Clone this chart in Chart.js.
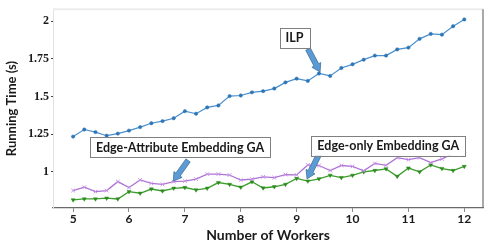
<!DOCTYPE html>
<html>
<head>
<meta charset="utf-8">
<script src="https://cdn.jsdelivr.net/npm/chart.js@4"></script>
<style>
  html, body { margin: 0; padding: 0; background: #fff; }
</style>
</head>
<body>
<canvas id="chart" width="490" height="244"></canvas>
<script>
// data
var workers = [5, 5.2, 5.4, 5.6, 5.8, 6, 6.2, 6.4, 6.6, 6.8, 7, 7.2, 7.4, 7.6, 7.8, 8, 8.2, 8.4,
               8.6, 8.8, 9, 9.2, 9.4, 9.6, 9.8, 10, 10.2, 10.4, 10.6, 10.8, 11, 11.2, 11.4, 11.6, 11.8, 12];
var ilp = [1.234, 1.281, 1.264, 1.240, 1.254, 1.274, 1.297, 1.323, 1.337, 1.356, 1.403, 1.386,
           1.428, 1.441, 1.503, 1.507, 1.528, 1.536, 1.553, 1.594, 1.619, 1.604, 1.653, 1.637,
           1.690, 1.714, 1.745, 1.772, 1.772, 1.813, 1.825, 1.883, 1.916, 1.911, 1.967, 2.012];
var edgeAttr = [0.876, 0.898, 0.869, 0.876, 0.935, 0.896, 0.946, 0.924, 0.917, 0.935, 0.939, 0.952,
                0.985, 0.985, 0.979, 0.946, 0.952, 0.967, 0.962, 0.982, 0.980, 1.046, 1.042, 1.009,
                1.042, 1.036, 1.007, 1.056, 1.043, 1.094, 1.081, 1.094, 1.061, 1.086, 1.121, 1.117];
var edgeOnly = [0.814, 0.820, 0.820, 0.825, 0.820, 0.869, 0.858, 0.886, 0.873, 0.891, 0.896, 0.880,
                0.891, 0.929, 0.917, 0.898, 0.934, 0.893, 0.901, 0.917, 0.956, 0.939, 0.954, 0.977,
                0.962, 0.977, 1.000, 1.009, 1.020, 0.970, 1.025, 1.000, 1.046, 1.022, 1.009, 1.036];
var xTicks = [5, 6, 7, 8, 9, 10, 11, 12];
var yTicks = [1, 1.25, 1.5, 1.75, 2];

function pts(ys) {
  return ys.map(function (v, i) { return { x: workers[i], y: v }; });
}

// callout boxes and arrows, placed in data units
var notes = [
  { text: 'ILP', x: 8.962, y: 1.892, tail: [9.204, 1.815], tip: [9.419, 1.663] },
  { text: 'Edge-Attribute Embedding GA', x: 6.914, y: 1.162, tail: [7.057, 1.076], tip: [6.794, 0.939] },
  { text: 'Edge-only Embedding GA', x: 10.64, y: 1.173, tail: [9.40, 1.116], tip: [9.186, 0.954] }
];

function drawArrow(ctx, x1, y1, x2, y2) {
  var dx = x2 - x1, dy = y2 - y1, len = Math.hypot(dx, dy);
  var ux = dx / len, uy = dy / len, nx = -uy, ny = ux;
  var hw = 2.6, hh = 5, hl = 8;
  var bx = x2 - ux * hl, by = y2 - uy * hl;
  ctx.beginPath();
  ctx.moveTo(x1 + nx * hw, y1 + ny * hw);
  ctx.lineTo(bx + nx * hw, by + ny * hw);
  ctx.lineTo(bx + nx * hh, by + ny * hh);
  ctx.lineTo(x2, y2);
  ctx.lineTo(bx - nx * hh, by - ny * hh);
  ctx.lineTo(bx - nx * hw, by - ny * hw);
  ctx.lineTo(x1 - nx * hw, y1 - ny * hw);
  ctx.closePath();
  ctx.fillStyle = '#5b9bd5';
  ctx.fill();
  ctx.strokeStyle = '#41719c';
  ctx.lineWidth = 0.8;
  ctx.stroke();
}

var calloutPlugin = {
  id: 'callouts',
  beforeDatasetsDraw: function (chart) {
    var ctx = chart.ctx, a = chart.chartArea;
    ctx.save();
    // top and right frame
    ctx.strokeStyle = '#ececec';
    ctx.lineWidth = 2;
    ctx.beginPath();
    ctx.moveTo(a.left, a.top);
    ctx.lineTo(a.right, a.top);
    ctx.stroke();
    ctx.strokeStyle = '#6f6f6f';
    ctx.lineWidth = 1.2;
    ctx.beginPath();
    ctx.moveTo(a.right, a.top);
    ctx.lineTo(a.right, a.bottom);
    ctx.stroke();
    ctx.restore();
  },
  afterDraw: function (chart) {
    var ctx = chart.ctx, xs = chart.scales.x, ys = chart.scales.y;
    ctx.save();
    ctx.font = 'bold 12.5px Lato';
    ctx.textBaseline = 'middle';
    ctx.textAlign = 'center';
    notes.forEach(function (n) {
      drawArrow(ctx, xs.getPixelForValue(n.tail[0]), ys.getPixelForValue(n.tail[1]),
                xs.getPixelForValue(n.tip[0]), ys.getPixelForValue(n.tip[1]));
      var cx = xs.getPixelForValue(n.x), cy = ys.getPixelForValue(n.y);
      var w = ctx.measureText(n.text).width + 12, h = 20;
      ctx.fillStyle = '#fff';
      ctx.fillRect(cx - w / 2, cy - h / 2, w, h);
      ctx.strokeStyle = '#808080';
      ctx.lineWidth = 1;
      ctx.strokeRect(Math.round(cx - w / 2) + 0.5, Math.round(cy - h / 2) + 0.5, Math.round(w), h);
      ctx.fillStyle = '#1a1a1a';
      ctx.fillText(n.text, cx, cy + 0.5);
    });
    ctx.restore();
  }
};

new Chart(document.getElementById('chart'), {
  type: 'line',
  data: {
    datasets: [
      {
        label: 'ILP',
        data: pts(ilp),
        borderColor: '#4a8fd0',
        borderWidth: 1.2,
        pointStyle: 'circle',
        pointRadius: 1.7,
        pointBackgroundColor: '#2e75b6',
        pointBorderColor: '#2e75b6',
        pointBorderWidth: 0.5
      },
      {
        label: 'Edge-Attribute Embedding GA',
        data: pts(edgeAttr),
        borderColor: '#ad74d6',
        borderWidth: 1.3,
        pointStyle: 'crossRot',
        pointRadius: 2.6,
        pointBorderColor: '#c893e6',
        pointBorderWidth: 1
      },
      {
        label: 'Edge-only Embedding GA',
        data: pts(edgeOnly),
        borderColor: '#3c9f2c',
        borderWidth: 1.3,
        pointStyle: 'triangle',
        pointRotation: 180,
        pointRadius: 2.3,
        pointBackgroundColor: '#2d8a1f',
        pointBorderColor: '#2d8a1f',
        pointBorderWidth: 0.5
      }
    ]
  },
  options: {
    responsive: false,
    animation: false,
    devicePixelRatio: 1,
    layout: { padding: { top: 8, right: 7, left: 0, bottom: 0 } },
    plugins: { legend: { display: false }, tooltip: { enabled: false } },
    scales: {
      x: {
        type: 'linear',
        min: 4.64,
        max: 12.335,
        afterBuildTicks: function (s) { s.ticks = xTicks.map(function (v) { return { value: v }; }); },
        afterFit: function (s) { s.height = 36; },
        ticks: { color: '#1a1a1a', font: { family: 'Lato', weight: 'bold', size: 12 }, padding: 0, maxRotation: 0, autoSkip: false,
                 callback: function (v) { return String(v); } },
        grid: { drawOnChartArea: false, tickLength: 4, tickColor: '#8a8a8a' },
        border: { color: '#6a6a6a', width: 1.2 },
        title: { display: true, text: 'Number of Workers', color: '#1a1a1a', font: { family: 'Lato', weight: 'bold', size: 14 }, padding: { top: 0, bottom: 0 } }
      },
      y: {
        min: 0.76,
        max: 2.08,
        afterBuildTicks: function (s) { s.ticks = yTicks.map(function (v) { return { value: v }; }); },
        afterFit: function (s) { s.width = 53; },
        ticks: { color: '#1a1a1a', font: { family: 'Liberation Serif', weight: 'bold', size: 12 }, padding: 2,
                 callback: function (v) { return String(v); } },
        grid: { drawOnChartArea: false, tickLength: 2, tickColor: '#444' },
        border: { color: '#e2e2e2', width: 1 },
        title: { display: true, text: 'Running Time (s)', color: '#1a1a1a', font: { family: 'Lato', weight: 'bold', size: 13 }, padding: { top: 4, bottom: 0 } }
      }
    }
  },
  plugins: [calloutPlugin]
});
</script>
</body>
</html>
